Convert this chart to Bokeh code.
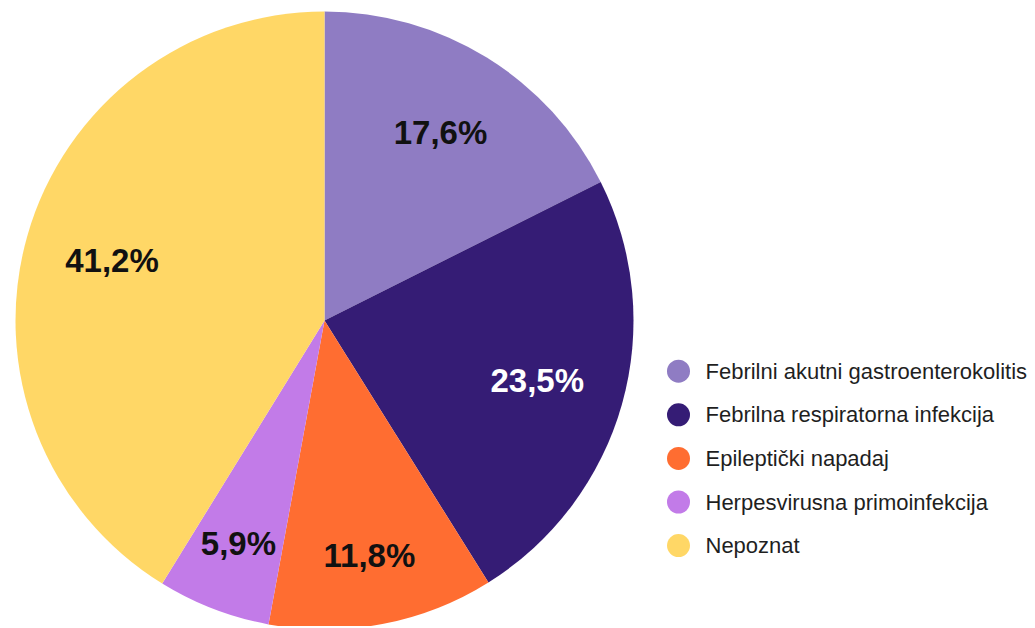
import math
from bokeh.plotting import figure
from bokeh.models import Range1d, ColumnDataSource
from bokeh.core.properties import value
from bokeh.embed import file_html
from bokeh.resources import INLINE

categories = ["Febrilni akutni gastroenterokolitis", "Febrilna respiratorna infekcija",
              "Epileptički napadaj", "Herpesvirusna primoinfekcija", "Nepoznat"]
shares = [17.6, 23.5, 11.8, 5.9, 41.2]
labels = ["17,6%", "23,5%", "11,8%", "5,9%", "41,2%"]
colors = ["#8f7cc3", "#351c75", "#ff6d31", "#c27be8", "#ffd766"]
label_colors = ["#111111", "#ffffff", "#111111", "#111111", "#111111"]

W, H = 1030, 626
p = figure(width=W, height=H, output_backend="svg", toolbar_location=None,
           x_range=Range1d(0, W), y_range=Range1d(0, H), min_border=0)
p.axis.visible = False
p.grid.visible = False
p.outline_line_color = None
p.background_fill_color = "white"

cx, cy, R = 324, H - 320, 309
total = sum(shares)
starts, ends, lx, ly = [], [], [], []
acc = 0.0
for s in shares:
    a0 = math.pi / 2 - acc / total * 2 * math.pi
    acc += s
    a1 = math.pi / 2 - acc / total * 2 * math.pi
    starts.append(a1)
    ends.append(a0)
    mid = (a0 + a1) / 2
    rf = 0.715 if s >= 15 else 0.775
    lx.append(cx + rf * R * math.cos(mid))
    ly.append(cy + rf * R * math.sin(mid))

src = ColumnDataSource(dict(start=starts, end=ends, color=colors, lx=lx, ly=ly,
                            label=labels, lcolor=label_colors))
p.wedge(x=cx, y=cy, radius=R, start_angle="start", end_angle="end",
        fill_color="color", line_color=None, source=src)
p.text(x="lx", y="ly", text="label", text_color="lcolor", source=src,
       text_font=value("Liberation Sans"), text_font_style="bold",
       text_font_size="33px", text_align="center", text_baseline="middle")

leg_y0 = H - 370.7
step = 43.6
ly2 = [leg_y0 - i * step for i in range(len(categories))]
lsrc = ColumnDataSource(dict(y=ly2, color=colors, name=categories))
p.scatter(x=678, y="y", size=23, fill_color="color", line_color=None, source=lsrc)
p.text(x=705, y="y", text="name", source=lsrc, text_color="#1f1f1f",
       text_font=value("Liberation Sans"), text_font_size="22px",
       text_align="left", text_baseline="middle")

open("out.html", "w").write(file_html(p, INLINE))
